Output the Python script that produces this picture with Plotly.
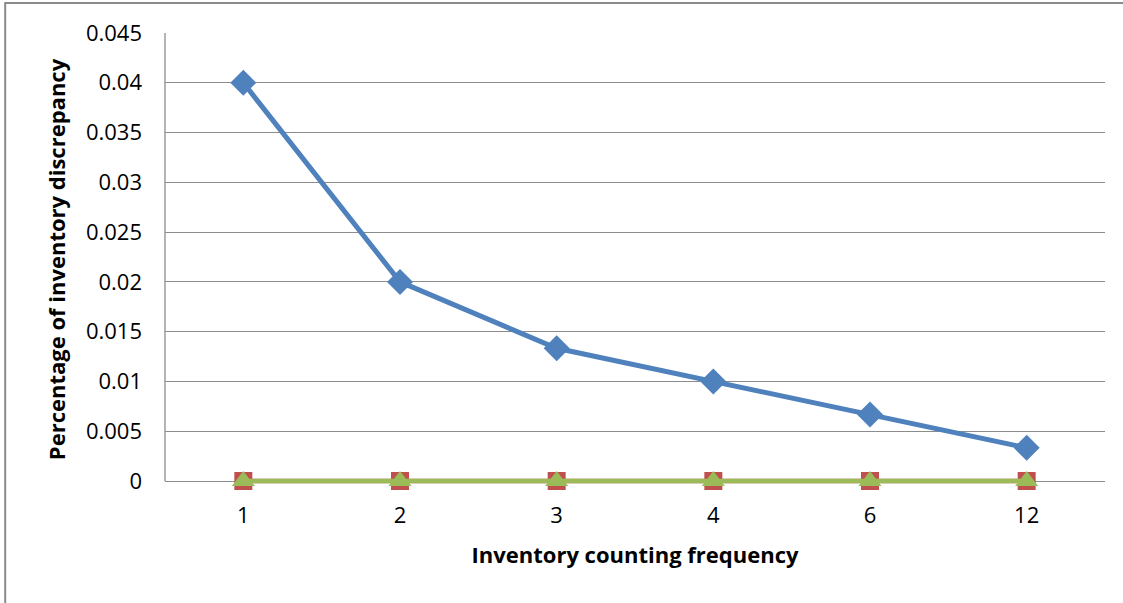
import plotly.graph_objects as go

# Counting frequency per year (category axis) and discrepancy rates
frequency = ["1", "2", "3", "4", "6", "12"]
discrepancy_blue = [0.04, 0.02, 0.01333, 0.01, 0.00667, 0.00333]
discrepancy_red = [0, 0, 0, 0, 0, 0]
discrepancy_green = [0, 0, 0, 0, 0, 0]

y_ticks = [0, 0.005, 0.01, 0.015, 0.02, 0.025, 0.03, 0.035, 0.04, 0.045]
y_tick_text = ["0", "0.005", "0.01", "0.015", "0.02", "0.025", "0.03", "0.035", "0.04", "0.045"]

BLUE = "#4F81BD"
RED = "#C0504D"
GREEN = "#9BBB59"
GRID = "#8C8C8C"
FONT = "Open Sans, Liberation Sans, sans-serif"

fig = go.Figure()
fig.add_trace(go.Scatter(
    x=frequency, y=discrepancy_blue, mode="lines+markers",
    line=dict(color=BLUE, width=5),
    marker=dict(symbol="diamond", size=20, color=BLUE),
    showlegend=False, cliponaxis=False,
))
fig.add_trace(go.Scatter(
    x=frequency, y=discrepancy_red, mode="lines+markers",
    line=dict(color=RED, width=4.5),
    marker=dict(symbol="square", size=18, color=RED),
    showlegend=False, cliponaxis=False,
))
fig.add_trace(go.Scatter(
    x=frequency, y=discrepancy_green, mode="lines+markers",
    line=dict(color=GREEN, width=4.5),
    marker=dict(symbol="triangle-up", size=20, color=GREEN),
    showlegend=False, cliponaxis=False,
))

# a small pad below zero keeps the zero-level lines from being clipped
Y_MIN = -0.0005

fig.update_layout(
    width=1123, height=603,
    margin=dict(l=165, r=18, t=33, b=117),
    paper_bgcolor="white", plot_bgcolor="white",
    font=dict(family=FONT, size=22, color="black"),
    xaxis=dict(
        type="category", range=[-0.5, 5.5],
        showgrid=False, zeroline=False, showline=False,
        ticks="", ticklabelstandoff=14,
        tickfont=dict(size=22),
        title=dict(text="<b>Inventory counting frequency</b>",
                   font=dict(size=22), standoff=19),
    ),
    yaxis=dict(
        range=[Y_MIN, 0.045], tickvals=y_ticks, ticktext=y_tick_text,
        showgrid=True, gridcolor=GRID, gridwidth=1.3,
        zeroline=False, showline=False,
        ticks="", ticklabelstandoff=22,
        tickfont=dict(size=22),
        title=dict(text="<b>Percentage of inventory discrepancy</b>",
                   font=dict(size=22), standoff=14),
    ),
    shapes=[
        # outer chart frame
        dict(type="rect", xref="paper", yref="paper",
             x0=-0.170, x1=1.1, y0=-0.30, y1=1.066,
             line=dict(color="#8A8A8A", width=2), layer="below"),
        # vertical axis line from zero to the top
        dict(type="line", xref="paper", yref="y",
             x0=0, x1=0, y0=0, y1=0.045,
             line=dict(color=GRID, width=1.3), layer="below"),
    ],
)

fig.write_html("out.html")
